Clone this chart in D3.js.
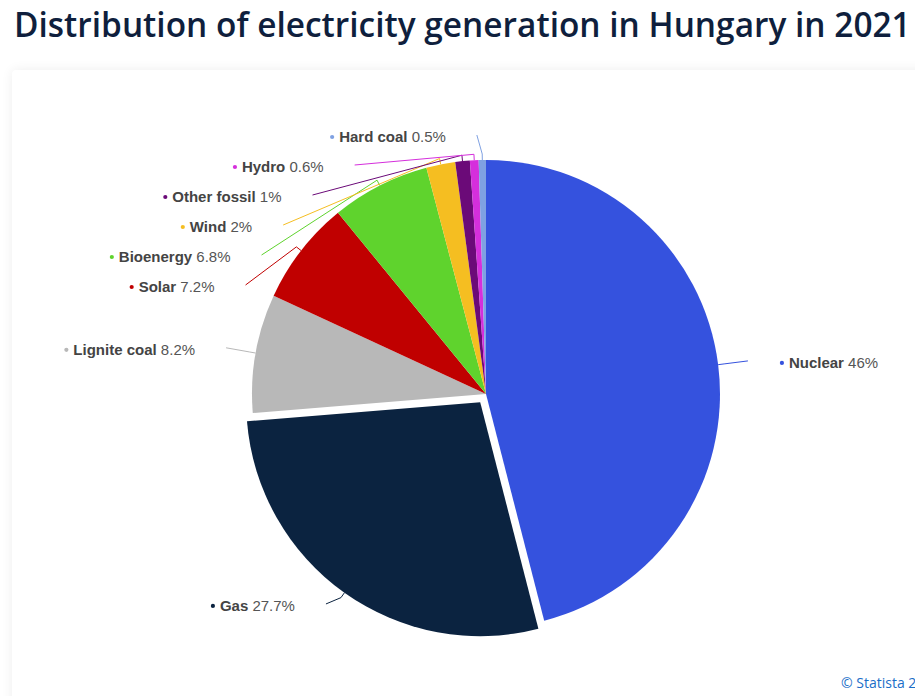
<!DOCTYPE html>
<html>
<head>
<meta charset="utf-8">
<script src="https://cdn.jsdelivr.net/npm/d3@7/dist/d3.min.js"></script>
<style>
  html, body { margin: 0; padding: 0; background: #ffffff; overflow: hidden; }
  #card { position: absolute; left: 12px; top: 70px; width: 940px; height: 700px; background: #fff;
          border-radius: 4px; box-shadow: 0 0 12px rgba(0,0,0,0.07); }
  svg { position: absolute; left: 0; top: 0; }
</style>
</head>
<body>
<div id="card"></div>
<svg id="chart" width="915" height="696"></svg>
<script>
const categories = ["Nuclear", "Gas", "Lignite coal", "Solar", "Bioenergy", "Wind", "Other fossil", "Hydro", "Hard coal"];
const shares = [46, 27.7, 8.2, 7.2, 6.8, 2, 1, 0.6, 0.5];
const valueLabels = ["46%", "27.7%", "8.2%", "7.2%", "6.8%", "2%", "1%", "0.6%", "0.5%"];
const colors = ["#3552de", "#0b2340", "#b8b8b8", "#c00000", "#5fd32d", "#f5be21", "#6b0a78", "#d52fdc", "#7fa1e2"];
const slicedCategory = "Gas";

const svg = d3.select("#chart");

// Title (scaled horizontally to the reference width)
const title = svg.append("text")
  .attr("x", 0).attr("y", 0)
  .attr("font-family", "'Open Sans', 'Noto Sans', sans-serif")
  .attr("font-weight", 600)
  .attr("font-size", 35)
  .attr("fill", "#0f1f3d")
  .text("Distribution of electricity generation in Hungary in 2021");
const tw = title.node().getComputedTextLength();
title.attr("transform", `translate(14,37) scale(${897 / tw},1)`);

// Credit
svg.append("text")
  .attr("x", 841).attr("y", 688)
  .attr("font-family", "'Open Sans', 'Noto Sans', sans-serif")
  .attr("font-size", 14)
  .attr("fill", "#1a6ec8")
  .text("© Statista 2023");

const cx = 486, cy = 394, r = 234;
const labelR = r + 30;
const labelCy = cy + 2;
const slicedOffset = 10;
const spacing = 30;
const topLimit = 137;

const data = categories.map((c, i) => ({ name: c, value: shares[i], label: valueLabels[i], color: colors[i] }));
const pie = d3.pie().value(d => d.value).sort(null).startAngle(0).endAngle(2 * Math.PI);
const arcs = pie(data);
const arc = d3.arc().innerRadius(0).outerRadius(r);

const g = svg.append("g").attr("transform", `translate(${cx},${cy})`);

arcs.forEach(a => {
  a.mid = (a.startAngle + a.endAngle) / 2;
  a.off = a.data.name === slicedCategory ? slicedOffset : 0;
  a.ox = Math.sin(a.mid) * a.off;
  a.oy = -Math.cos(a.mid) * a.off;
  a.left = a.mid > Math.PI;
  a.naturalY = labelCy - labelR * Math.cos(a.mid) + (a.off ? -a.oy / 2 - 1 : 0);
});

g.selectAll("path.slice").data(arcs).join("path")
  .attr("class", "slice")
  .attr("d", arc)
  .attr("transform", d => `translate(${d.ox},${d.oy})`)
  .attr("fill", d => d.data.color);

// label layout (distribute on each side)
function layout(side) {
  const pts = arcs.filter(a => a.left === side).sort((a, b) => a.naturalY - b.naturalY);
  let prev = -Infinity;
  pts.forEach(p => {
    const y = Math.max(p.naturalY, topLimit, prev + spacing);
    p.labelY = y;
    p.atTop = (y === topLimit);
    prev = y;
  });
}
layout(true); layout(false);

arcs.forEach(a => {
  const yForX = a.atTop ? a.naturalY : a.labelY;
  const dy = yForX - labelCy;
  const dx = Math.sqrt(Math.max(0, labelR * labelR - dy * dy)) + (a.atTop ? 5 : 0);
  a.anchorX = a.left ? cx - dx : cx + dx;
});

const font = "'Liberation Sans', Arial, sans-serif";

arcs.forEach(a => {
  const edge = [cx + a.ox + Math.sin(a.mid) * r, cy + a.oy - Math.cos(a.mid) * r];
  const knee = [cx + a.ox + Math.sin(a.mid) * (r + 6), cy + a.oy - Math.cos(a.mid) * (r + 6)];
  const start = [a.anchorX, a.labelY - 2];
  svg.append("path")
    .attr("d", d3.line()([start, knee, edge]))
    .attr("fill", "none")
    .attr("stroke", a.data.color)
    .attr("stroke-width", 1);

  const t = svg.append("text")
    .attr("font-family", font)
    .attr("font-size", 15)
    .attr("y", a.labelY)
    .attr("dy", "0.35em");
  t.append("tspan").attr("font-weight", "bold").attr("fill", "#444444").text(a.data.name);
  t.append("tspan").attr("fill", "#555555").text(" " + a.data.label);
  if (a.left) {
    t.attr("text-anchor", "end").attr("x", a.anchorX - 31);
  } else {
    t.attr("text-anchor", "start").attr("x", a.anchorX + 41);
  }
  const bb = t.node().getBBox();
  svg.append("circle")
    .attr("cx", bb.x - 7)
    .attr("cy", a.labelY)
    .attr("r", 2.1)
    .attr("fill", a.data.color);
});
</script>
</body>
</html>
